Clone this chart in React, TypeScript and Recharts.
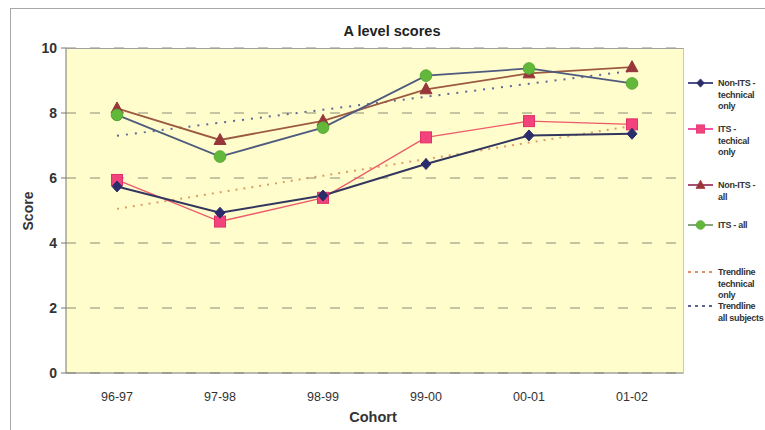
import { LineChart, Line, XAxis, YAxis, CartesianGrid } from 'recharts'

const cohorts = ['96-97', '97-98', '98-99', '99-00', '00-01', '01-02']
const nonItsTechnical = [5.74, 4.93, 5.46, 6.43, 7.31, 7.36]
const itsTechnical = [5.94, 4.66, 5.39, 7.25, 7.75, 7.65]
const nonItsAll = [8.14, 7.17, 7.76, 8.73, 9.22, 9.41]
const itsAll = [7.94, 6.66, 7.55, 9.15, 9.37, 8.91]
const trendTechnical = [5.05, 5.56, 6.07, 6.58, 7.09, 7.6]
const trendAll = [7.3, 7.7, 8.1, 8.5, 8.9, 9.3]
const scoreTicks = [0, 2, 4, 6, 8, 10]

const data = cohorts.map((cohort, i) => ({
  cohort,
  nonItsTechnical: nonItsTechnical[i],
  itsTechnical: itsTechnical[i],
  nonItsAll: nonItsAll[i],
  itsAll: itsAll[i],
  trendTechnical: trendTechnical[i],
  trendAll: trendAll[i],
}))

const FONT = '"Liberation Sans", Arial, sans-serif'

type Marker = 'diamond' | 'square' | 'triangle' | 'circle' | 'none'

const drawMarker = (kind: Marker, cx: number, cy: number, key?: string) => {
  switch (kind) {
    case 'diamond':
      return (
        <polygon key={key} points={`${cx},${cy - 5.5} ${cx + 5},${cy} ${cx},${cy + 5.5} ${cx - 5},${cy}`}
          fill="#2b2d6b" stroke="#2b2d6b" />
      )
    case 'square':
      return <rect key={key} x={cx - 5.5} y={cy - 5.5} width={11} height={11} fill="#f2437c" stroke="#e0306a" />
    case 'triangle':
      return (
        <polygon key={key} points={`${cx},${cy - 6.5} ${cx + 6},${cy + 4.5} ${cx - 6},${cy + 4.5}`}
          fill="#98363a" stroke="#98363a" />
      )
    case 'circle':
      return <circle key={key} cx={cx} cy={cy} r={5.8} fill="#62b83a" stroke="#55a832" />
    default:
      return <g key={key} />
  }
}

const dotOf = (kind: Marker) => (props: any) =>
  drawMarker(kind, props.cx, props.cy, `${kind}-${props.index}`)

const legendItems = [
  { lines: ['Non-ITS -', 'technical', 'only'], color: '#3a3c7a', marker: 'diamond' as Marker, dash: undefined, top: 83 },
  { lines: ['ITS -', 'techical', 'only'], color: '#f0409a', marker: 'square' as Marker, dash: undefined, top: 129 },
  { lines: ['Non-ITS -', 'all'], color: '#9a3c60', marker: 'triangle' as Marker, dash: undefined, top: 185 },
  { lines: ['ITS - all'], color: '#7a9a70', marker: 'circle' as Marker, dash: undefined, top: 225 },
  { lines: ['Trendline', 'technical', 'only'], color: '#e09060', marker: 'none' as Marker, dash: '3 4', top: 272 },
  { lines: ['Trendline', 'all subjects'], color: '#5a6494', marker: 'none' as Marker, dash: '3 4', top: 306 },
]

const SeriesKey = () => (
  <svg width={82} height={330} style={{ position: 'absolute', left: 683, top: 0, overflow: 'visible' }}>
    {legendItems.map((item) => (
      <g key={item.lines[0] + item.top}>
        <line x1={5} x2={30} y1={item.top} y2={item.top} stroke={item.color} strokeWidth={1.8}
          strokeDasharray={item.dash} />
        {item.marker !== 'none' && (
          <g transform={`translate(17.5 ${item.top}) scale(0.75) translate(-17.5 ${-item.top})`}>
            {drawMarker(item.marker, 17.5, item.top)}
          </g>
        )}
        {item.lines.map((t, j) => (
          <text key={t} x={35} y={item.top + 3 + j * 11.5} fontSize={9} fontWeight="bold"
            fill="#333" fontFamily={FONT} letterSpacing={-0.3}>
            {t}
          </text>
        ))}
      </g>
    ))}
  </svg>
)

export default function App() {
  return (
    <div style={{ position: 'absolute', left: 0, top: 0, width: 765, height: 430, background: '#fff', overflow: 'hidden' }}>
      {/* chart area frame */}
      <div style={{ position: 'absolute', left: 10, top: 8, width: 800, height: 500, border: '1px solid #a8a8a8' }} />
      <LineChart
        width={765}
        height={430}
        data={data}
        margin={{ top: 48, right: 82, bottom: 27, left: 26 }}
        style={{ position: 'absolute', left: 0, top: 0, fontFamily: FONT }}
      >
        <CartesianGrid vertical={false} fill="#fefdcb" stroke="#8c8c78" strokeDasharray="10 14" />
        <XAxis
          dataKey="cohort"
          height={30}
          padding={{ left: 51, right: 51 }}
          tickLine={false}
          tickSize={0}
          tickMargin={19}
          stroke="#777"
          tick={{ fill: '#333', fontSize: 12.5 }}
          label={{
            content: () => (
              <text x={373} y={422} textAnchor="middle" fontSize={14.5} fontWeight="bold" fill="#333" fontFamily={FONT}>
                Cohort
              </text>
            ),
          }}
        />
        <YAxis
          domain={[0, 10]}
          ticks={scoreTicks}
          width={40}
          tickSize={5}
          tickMargin={4}
          stroke="#777"
          tick={{ fill: '#333', fontSize: 14, fontWeight: 'bold' }}
          label={{
            content: () => (
              <text x={28} y={211} transform="rotate(-90 28 211)" textAnchor="middle" dominantBaseline="central"
                fontSize={14} fontWeight="bold" fill="#333" fontFamily={FONT}>
                Score
              </text>
            ),
          }}
        />
        <Line dataKey="trendTechnical" stroke="#e39a66" strokeWidth={2} strokeDasharray="2 6"
          dot={false} isAnimationActive={false} legendType="none" />
        <Line dataKey="trendAll" stroke="#5e6a9c" strokeWidth={2} strokeDasharray="2 7"
          dot={false} isAnimationActive={false} legendType="none" />
        <Line dataKey="nonItsAll" stroke="#9c5a42" strokeWidth={1.8}
          dot={dotOf('triangle')} isAnimationActive={false} legendType="none" />
        <Line dataKey="itsAll" stroke="#4e5a7e" strokeWidth={1.8}
          dot={dotOf('circle')} isAnimationActive={false} legendType="none" />
        <Line dataKey="itsTechnical" stroke="#ee5a6a" strokeWidth={1.4}
          dot={dotOf('square')} isAnimationActive={false} legendType="none" />
        <Line dataKey="nonItsTechnical" stroke="#33365e" strokeWidth={2}
          dot={dotOf('diamond')} isAnimationActive={false} legendType="none" />
        <text x={392} y={36} textAnchor="middle" fontSize={14.5} fontWeight="bold" fill="#222" fontFamily={FONT}>
          A level scores
        </text>
      </LineChart>
      {/* plot area border */}
      <div style={{ position: 'absolute', left: 66, top: 48, width: 617, height: 325, borderTop: '1px solid #a0a0a0', borderRight: '1px solid #c8c8c8', pointerEvents: 'none' }} />
      <SeriesKey />
    </div>
  )
}
